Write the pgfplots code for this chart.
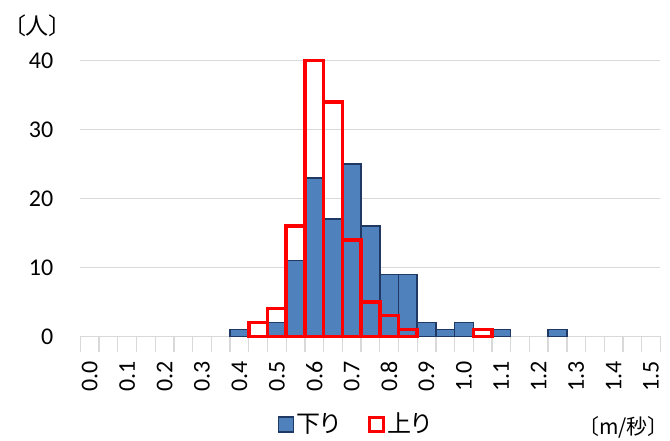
\documentclass[border=0pt]{standalone}
\usepackage{fontspec}
\setmainfont{Carlito}
\newfontfamily\jp[RawFeature=+palt]{Noto Sans CJK JP}
\usepackage{pgfplots}
\pgfplotsset{compat=1.18}
\definecolor{barblue}{HTML}{4F81BD}
\definecolor{bardark}{HTML}{1F3864}
\definecolor{gridgray}{HTML}{D9D9D9}
\begin{document}
\fontsize{24bp}{28bp}\selectfont
\begin{tikzpicture}
\begin{axis}[
  at={(0,0)}, anchor=south west,
  scale only axis, width=580bp, height=275.6bp,
  xmin=-0.5, xmax=30.5, ymin=0, ymax=40,
  ytick={0,10,20,30,40},
  ymajorgrids, grid style={gridgray, line width=1.3bp},
  xtick={0,2,...,30},
  xticklabels={0.0,0.1,0.2,0.3,0.4,0.5,0.6,0.7,0.8,0.9,1.0,1.1,1.2,1.3,1.4,1.5},
  minor xtick={-0.5,0.5,...,30.5},
  major tick length=0pt, minor tick length=16bp, tick align=center,
  minor tick style={gridgray, line width=1.3bp},
  xtick pos=bottom, ytick pos=left,
  axis line style={draw=none},
  xticklabel style={rotate=90, anchor=east, xshift=-17bp, font=\fontsize{24bp}{28bp}\selectfont},
  yticklabel style={xshift=-19bp, font=\fontsize{24bp}{28bp}\selectfont},
  /pgf/number format/assume math mode=true,
  ybar, bar width=1, clip=false,
  legend columns=2,
  legend style={at={(0.474,0)}, anchor=center, yshift=-88bp, draw=none,
    font=\jp\fontsize{24bp}{28bp}\selectfont, inner sep=0pt,
    /tikz/every even column/.append style={column sep=26bp}},
]
\addplot[bar shift=0pt, fill=barblue, draw=bardark, line width=1.5bp,
  legend image code/.code={\draw[fill=barblue, draw=bardark, line width=1.5bp] (0bp,-7.5bp) rectangle (15bp,7.5bp);}]
  coordinates {(8,1) (10,2) (11,11) (12,23) (13,17) (14,25) (15,16) (16,9) (17,9) (18,2) (19,1) (20,2) (22,1) (25,1)};
\addlegendentry{下り}
\addplot[bar shift=0pt, fill=none, draw=red, line width=3.5bp,
  legend image code/.code={\draw[fill=white, draw=red, line width=3.2bp] (0bp,-7bp) rectangle (14bp,7bp);}]
  coordinates {(9,2) (10,4) (11,16) (12,40) (13,34) (14,14) (15,5) (16,3) (17,1) (21,1)};
\addlegendentry{上り}
\end{axis}
\node[font=\jp\fontsize{23bp}{26bp}\selectfont] at (-42.9bp,310.3bp) {〔人〕};
\node[font=\jp\fontsize{21bp}{24bp}\selectfont, anchor=east, inner sep=0pt] at (578bp,-90.7bp) {〔m/秒〕};
\pgfresetboundingbox
\path (-80.4bp,-104.7bp) rectangle (589.6bp,336.3bp);
\end{tikzpicture}
\end{document}
